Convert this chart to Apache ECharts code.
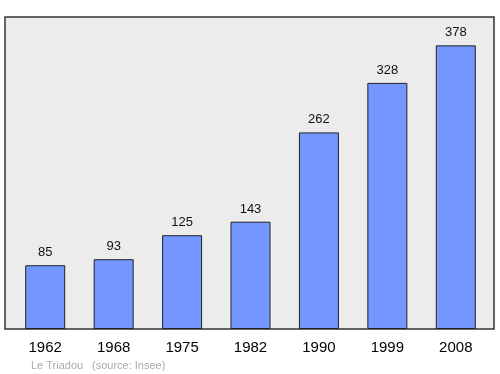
<!DOCTYPE html>
<html><head><meta charset="utf-8">
<script src="https://cdn.jsdelivr.net/npm/echarts@6/dist/echarts.min.js"></script>
<style>html,body{margin:0;padding:0;background:#fff}#c{width:500px;height:374px}</style>
</head><body><div id="c"></div>
<script>
var years = ['1962','1968','1975','1982','1990','1999','2008'];
var population = [85, 93, 125, 143, 262, 328, 378];
var footerPlace = 'Le Triadou';
var footerSource = '(source: Insee)';

var chart = echarts.init(document.getElementById('c'));
var yMax = Math.max.apply(null, population) * 1.1;
chart.setOption({
  animation: false,
  textStyle: {fontFamily: 'Liberation Sans, Arial, sans-serif'},
  grid: [
    {left: 5, right: 6, top: 17, bottom: 45, show: true, backgroundColor: '#ececec', borderColor: '#333', borderWidth: 1.5, z: 0},
    {left: 11, right: 10, top: 17, bottom: 45, show: false}
  ],
  xAxis: [
    {gridIndex: 0, type: 'category', data: years, show: false},
    {gridIndex: 1, type: 'category', data: years,
     axisLine: {show: false}, axisTick: {show: false},
     axisLabel: {color: '#000', fontSize: 15, margin: 11}}
  ],
  yAxis: [
    {gridIndex: 0, type: 'value', min: 0, max: yMax, show: false},
    {gridIndex: 1, type: 'value', min: 0, max: yMax, show: false}
  ],
  series: [{
    type: 'bar', xAxisIndex: 1, yAxisIndex: 1, data: population,
    barWidth: 40,
    itemStyle: {color: '#7396ff', borderColor: '#222', borderWidth: 1},
    label: {show: true, position: 'top', distance: 6, color: '#111', fontSize: 13}
  }],
  graphic: [
    {type: 'text', left: 31, top: 360, style: {text: footerPlace, fill: '#aaa', fontSize: 11, fontFamily: 'Liberation Sans, Arial, sans-serif'}},
    {type: 'text', left: 92, top: 360, style: {text: footerSource, fill: '#aaa', fontSize: 11, fontFamily: 'Liberation Sans, Arial, sans-serif'}}
  ]
});
</script></body></html>
